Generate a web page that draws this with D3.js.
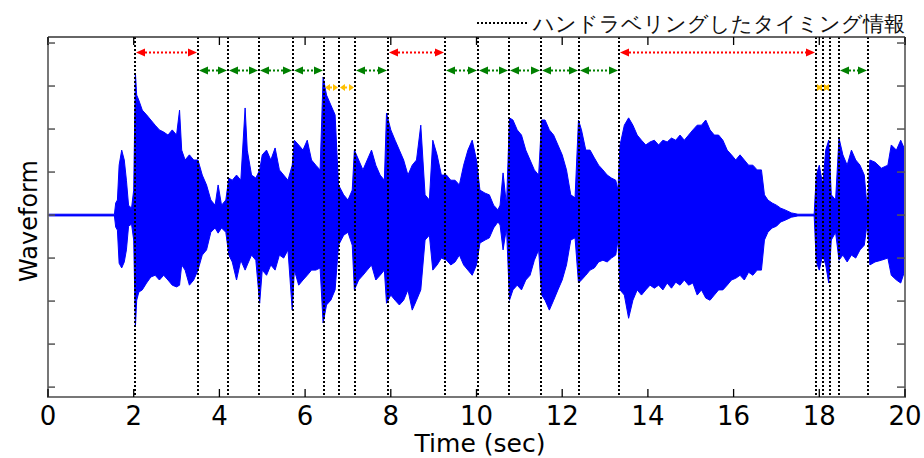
<!DOCTYPE html>
<html>
<head>
<meta charset="utf-8">
<script src="https://cdn.jsdelivr.net/npm/d3@7"></script>
<style>
  body { margin: 0; background: #fff; }
  text { font-family: "DejaVu Sans", Verdana, sans-serif; }
</style>
</head>
<body>
<div id="chart"></div>
<script>
// waveform envelope (time in sec, upper / lower amplitude)
const times = [0, 1.55, 1.58, 1.62, 1.66, 1.72, 1.78, 1.83, 1.88, 1.95, 2.00, 2.04, 2.07, 2.12, 2.2, 2.3, 2.4, 2.5, 2.6, 2.7,
  2.8, 2.9, 3.0, 3.07, 3.12, 3.2, 3.3, 3.4, 3.5, 3.6, 3.7, 3.8, 3.9, 3.97, 4.05, 4.15, 4.22, 4.3, 4.4, 4.5,
  4.6, 4.65, 4.75, 4.85, 4.94, 5.0, 5.1, 5.2, 5.3, 5.4, 5.5, 5.6, 5.7, 5.75, 5.85, 5.95, 6.05, 6.15, 6.25, 6.35,
  6.42, 6.5, 6.6, 6.7, 6.78, 6.9, 7.0, 7.1, 7.15, 7.25, 7.35, 7.45, 7.55, 7.65, 7.75, 7.85, 7.9, 8.0, 8.1, 8.2,
  8.3, 8.4, 8.5, 8.6, 8.7, 8.8, 8.9, 8.98, 9.08, 9.18, 9.3, 9.4, 9.5, 9.6, 9.7, 9.8, 9.9, 10.0, 10.08, 10.2,
  10.3, 10.4, 10.5, 10.55, 10.62, 10.7, 10.77, 10.85, 10.95, 11.05, 11.15, 11.25, 11.35, 11.45, 11.52, 11.6, 11.7, 11.8, 11.9, 12.0,
  12.1, 12.2, 12.3, 12.38, 12.45, 12.55, 12.65, 12.75, 12.85, 12.95, 13.05, 13.15, 13.25, 13.3, 13.35, 13.45, 13.55, 13.65, 13.75, 13.85,
  13.95, 14.05, 14.15, 14.25, 14.35, 14.45, 14.55, 14.65, 14.75, 14.85, 14.95, 15.05, 15.15, 15.25, 15.35, 15.45, 15.55, 15.65, 15.75, 15.85,
  15.95, 16.05, 16.15, 16.25, 16.35, 16.45, 16.55, 16.65, 16.72, 16.8, 16.9, 17.0, 17.1, 17.2, 17.35, 17.5, 17.88, 17.93, 18.0, 18.08,
  18.15, 18.22, 18.28, 18.38, 18.46, 18.55, 18.65, 18.75, 18.85, 18.95, 19.05, 19.12, 19.18, 19.3, 19.45, 19.6, 19.68, 19.8, 19.9, 20.0];
const upper = [0.02, 0.02, 0.28, 0.35, 1.16, 1.51, 1.28, 0.81, 0.23, 0.16, 0.58, 3.30, 2.79, 2.67, 2.44, 2.33, 2.21, 2.09, 1.98, 1.93,
  1.86, 1.98, 1.86, 2.44, 1.51, 1.28, 1.40, 1.28, 1.28, 0.93, 0.70, 0.35, 0.23, 0.70, 0.23, 0.35, 0.86, 0.81, 0.93, 0.81,
  2.49, 1.51, 0.93, 0.86, 1.05, 1.40, 1.51, 1.28, 1.56, 1.05, 0.93, 0.81, 1.16, 1.74, 1.63, 1.51, 1.74, 1.28, 1.16, 1.05,
  3.21, 2.79, 2.56, 2.33, 0.70, 0.47, 0.35, 0.58, 1.51, 1.28, 1.05, 1.28, 1.51, 1.16, 0.93, 0.81, 2.37, 1.98, 1.74, 1.51,
  1.28, 0.93, 1.16, 1.28, 2.09, 0.47, 0.35, 1.74, 1.40, 0.93, 0.93, 0.81, 0.81, 0.70, 1.16, 1.51, 1.74, 1.28, 0.58, 0.51,
  0.47, 0.23, 0.12, 0.23, 0.98, 0.23, 2.26, 2.21, 1.98, 1.86, 1.51, 1.28, 1.05, 0.93, 2.21, 2.21, 1.98, 1.86, 1.63, 1.40,
  1.05, 0.47, 0.40, 2.21, 1.98, 1.51, 1.51, 1.33, 1.16, 1.05, 0.93, 0.86, 0.81, 0.58, 1.63, 2.09, 2.26, 2.09, 1.86, 1.74,
  1.63, 1.70, 1.74, 1.63, 1.74, 1.70, 1.79, 1.74, 1.86, 1.74, 1.86, 1.98, 2.09, 2.09, 2.21, 1.98, 1.86, 1.86, 1.74, 1.51,
  1.40, 1.28, 1.40, 1.28, 1.16, 1.16, 1.05, 1.05, 0.47, 0.35, 0.28, 0.23, 0.16, 0.12, 0.05, 0.02, 0.02, 0.93, 1.16, 0.70,
  1.51, 1.74, 0.47, 0.35, 1.79, 1.40, 1.16, 1.51, 1.28, 1.16, 0.93, 0.12, 1.28, 1.23, 1.09, 1.16, 1.63, 1.51, 1.74, 1.51];
const lower = [-0.02, -0.02, -0.28, -0.35, -1.12, -1.23, -1.09, -0.81, -0.26, -0.21, -0.58, -2.60, -1.98, -1.79, -1.74, -1.58, -1.44, -1.40, -1.51, -1.40,
  -1.51, -1.63, -1.67, -1.63, -1.16, -1.28, -1.63, -1.51, -1.28, -0.93, -0.81, -0.40, -0.30, -0.42, -0.30, -0.40, -0.93, -1.09, -1.51, -1.05,
  -1.28, -1.16, -0.93, -1.05, -2.05, -1.28, -1.40, -1.16, -1.28, -0.93, -1.00, -0.81, -2.21, -1.28, -1.63, -1.51, -1.40, -1.28, -1.28, -1.23,
  -2.51, -2.09, -1.98, -1.74, -0.70, -0.47, -0.40, -0.70, -1.74, -1.51, -1.40, -1.28, -1.16, -1.51, -1.40, -1.28, -2.05, -1.86, -1.98, -2.09,
  -1.98, -1.74, -2.21, -1.98, -1.74, -0.58, -0.47, -1.28, -1.16, -1.00, -1.05, -1.16, -1.09, -0.93, -1.16, -1.28, -1.40, -1.16, -0.65, -0.58,
  -0.53, -0.30, -0.16, -0.23, -0.81, -0.30, -1.98, -1.74, -1.63, -1.74, -1.51, -1.40, -1.05, -0.81, -1.86, -1.98, -2.21, -1.98, -1.74, -1.51,
  -1.16, -0.58, -0.53, -1.58, -1.51, -1.40, -1.28, -1.23, -1.09, -1.05, -1.09, -1.00, -0.93, -0.58, -1.74, -1.86, -2.40, -1.98, -1.74, -1.86,
  -1.74, -1.63, -1.70, -1.63, -1.74, -1.58, -1.70, -1.56, -1.63, -1.51, -1.63, -1.58, -1.86, -1.74, -1.93, -1.98, -1.86, -1.74, -1.74, -1.63,
  -1.51, -1.47, -1.40, -1.51, -1.33, -1.40, -1.28, -1.28, -0.58, -0.40, -0.30, -0.26, -0.16, -0.12, -0.05, -0.02, -0.02, -1.09, -1.28, -0.93,
  -1.16, -1.58, -0.58, -0.40, -1.05, -0.93, -1.09, -0.93, -1.00, -0.81, -0.70, -0.16, -1.16, -1.09, -1.05, -1.00, -1.40, -1.51, -1.58, -1.28];

// hand-labelled timing boundaries (sec)
const boundaries = [2.03, 3.50, 4.20, 4.93, 5.72, 6.44, 6.79, 7.17, 7.94, 9.27,
  10.03, 10.76, 11.50, 12.39, 13.32, 17.93, 18.08, 18.26, 18.47, 19.14];
const redSpans = [[2.03, 3.50], [7.94, 9.27], [13.32, 17.93]];
const greenSpans = [[3.50, 4.20], [4.20, 4.93], [4.93, 5.72], [5.72, 6.44], [7.17, 7.94], [9.27, 10.03],
  [10.03, 10.76], [10.76, 11.50], [11.50, 12.39], [12.39, 13.32], [18.47, 19.14]];
const yellowSpans = [[6.44, 6.79], [6.79, 7.17], [17.93, 18.08], [18.08, 18.26]];
const spanLevels = [3.78, 3.37, 2.98];

const xTicks = d3.range(0, 21, 2);
const yTicks = d3.range(-4, 5, 1);
const legendText = "ハンドラベリングしたタイミング情報";

const W = 924, H = 458;
const margin = { top: 37, right: 19, bottom: 61, left: 48 };

const svg = d3.select("#chart").append("svg")
  .attr("width", W).attr("height", H);

const x = d3.scaleLinear().domain([0, 20]).range([margin.left, W - margin.right]);
const y = d3.scaleLinear().domain([-4.23, 4.14]).range([H - margin.bottom, margin.top]);

// waveform envelope
const area = d3.area()
  .x((d, i) => x(times[i]))
  .y0((d, i) => y(lower[i]))
  .y1((d, i) => y(upper[i]));
svg.append("path")
  .datum(times)
  .attr("d", area)
  .attr("fill", "#0000ff")
  .attr("stroke", "#0000ff")
  .attr("stroke-width", 1);

// boundaries
svg.selectAll(".bound").data(boundaries).enter().append("line")
  .attr("class", "bound")
  .attr("x1", d => Math.round(x(d))).attr("x2", d => Math.round(x(d)))
  .attr("y1", margin.top).attr("y2", H - margin.bottom)
  .attr("stroke", "#000").attr("stroke-width", 2)
  .attr("stroke-dasharray", "2,2");

// double arrows
function drawSpans(spans, level, color, head, hh) {
  const yy = Math.round(y(level)) + 0.5;
  const g = svg.append("g");
  spans.forEach(([a, b]) => {
    const x1 = Math.round(x(a)) + 1, x2 = Math.round(x(b)) - 1;
    g.append("line")
      .attr("x1", x1 + head).attr("x2", x2 - head)
      .attr("y1", yy).attr("y2", yy)
      .attr("stroke", color).attr("stroke-width", 2)
      .attr("stroke-dasharray", "2,2");
    g.append("path")
      .attr("d", `M${x1},${yy}L${x1 + head},${yy - hh}L${x1 + head},${yy + hh}Z`)
      .attr("fill", color);
    g.append("path")
      .attr("d", `M${x2},${yy}L${x2 - head},${yy - hh}L${x2 - head},${yy + hh}Z`)
      .attr("fill", color);
  });
}
drawSpans(redSpans, spanLevels[0], "#ff0000", 9, 4);
drawSpans(greenSpans, spanLevels[1], "#008000", 9, 4);
drawSpans(yellowSpans, spanLevels[2], "#ffc000", 5, 3.5);

// frame
const L = margin.left, R = W - margin.right, T = margin.top, B = H - margin.bottom;
svg.append("line").attr("x1", L).attr("x2", R).attr("y1", T).attr("y2", T)
  .attr("stroke", "#333").attr("stroke-width", 1.5);
svg.append("path").attr("d", `M${L},${T}V${B}H${R}V${T}`)
  .attr("fill", "none").attr("stroke", "#777").attr("stroke-width", 2);

// ticks
svg.selectAll(".xtb").data(xTicks).enter().append("line")
  .attr("x1", d => x(d)).attr("x2", d => x(d)).attr("y1", B).attr("y2", B - 8)
  .attr("stroke", "#000").attr("stroke-width", 1.3);
svg.selectAll(".xtt").data(xTicks).enter().append("line")
  .attr("x1", d => x(d)).attr("x2", d => x(d)).attr("y1", T).attr("y2", T + 8)
  .attr("stroke", "#000").attr("stroke-width", 1.3);
svg.selectAll(".ytl").data(yTicks).enter().append("line")
  .attr("x1", L).attr("x2", L + 7).attr("y1", d => y(d)).attr("y2", d => y(d))
  .attr("stroke", "#555").attr("stroke-width", 1.5);
svg.selectAll(".ytr").data(yTicks).enter().append("line")
  .attr("x1", R).attr("x2", R - 8).attr("y1", d => y(d)).attr("y2", d => y(d))
  .attr("stroke", "#555").attr("stroke-width", 1.5);

svg.selectAll(".xlab").data(xTicks).enter().append("text")
  .attr("x", d => x(d)).attr("y", 425)
  .attr("text-anchor", "middle").attr("font-size", 26)
  .text(d => d);

svg.append("text").attr("x", 480).attr("y", 452)
  .attr("text-anchor", "middle").attr("font-size", 25)
  .text("Time (sec)");
svg.append("text")
  .attr("transform", "translate(37,221) rotate(-90)")
  .attr("text-anchor", "middle").attr("font-size", 24)
  .text("Waveform");

// legend
svg.append("line").attr("x1", 477).attr("x2", 527).attr("y1", 23).attr("y2", 23)
  .attr("stroke", "#000").attr("stroke-width", 2).attr("stroke-dasharray", "2,2");
svg.append("text").attr("x", 533).attr("y", 31)
  .attr("font-family", "'Noto Sans CJK JP', sans-serif").attr("font-size", 21.4)
  .attr("fill", "#111")
  .text(legendText);
</script>
</body>
</html>
